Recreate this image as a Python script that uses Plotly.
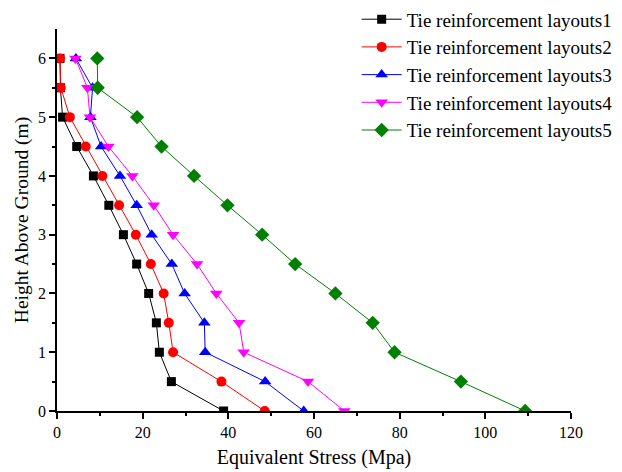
import plotly.graph_objects as go

heights = [0, 0.5, 1, 1.5, 2, 2.5, 3, 3.5, 4, 4.5, 5, 5.5, 6]
layout1 = [38.9, 26.7, 23.9, 23.2, 21.4, 18.6, 15.5, 12.1, 8.5, 4.6, 1.3, 0.8, 0.7]
layout2 = [48.5, 38.4, 27.1, 26.1, 24.9, 21.9, 18.4, 14.5, 10.6, 6.7, 3.0, 0.9, 0.7]
layout3 = [57.6, 48.6, 34.6, 34.4, 29.8, 26.8, 22.1, 18.6, 14.7, 10.3, 7.8, 8.3, 4.4]
layout4 = [67.1, 58.6, 43.6, 42.5, 37.2, 32.7, 27.1, 22.6, 17.6, 12.0, 7.7, 7.1, 4.3]
layout5 = [109.3, 94.3, 78.8, 73.7, 65.0, 55.6, 47.9, 39.8, 32.0, 24.4, 18.7, 9.5, 9.4]

names = ["Tie reinforcement layouts1", "Tie reinforcement layouts2", "Tie reinforcement layouts3",
         "Tie reinforcement layouts4", "Tie reinforcement layouts5"]
series = [layout1, layout2, layout3, layout4, layout5]
colors = ["#000000", "#FF0000", "#0000FF", "#FF00FF", "#008000"]
symbols = ["square", "circle", "triangle-up", "triangle-down", "diamond"]
sizes = [9, 10, 11, 11, 11]

fig = go.Figure()
for n, s, c, sym, sz in zip(names, series, colors, symbols, sizes):
    fig.add_trace(go.Scatter(
        x=s, y=heights, name=n, mode="lines+markers",
        line=dict(color=c, width=1),
        marker=dict(symbol=sym, size=sz, color=c, line=dict(width=0)),
        cliponaxis=True,
    ))

font = "Liberation Serif, Times New Roman, serif"
fig.update_layout(
    width=622, height=472,
    margin=dict(l=57, r=51, t=29, b=61, autoexpand=False),
    paper_bgcolor="white", plot_bgcolor="white",
    font=dict(family=font, size=16, color="black"),
    legend=dict(x=0.583, y=1.075, xanchor="left", yanchor="top",
                bgcolor="rgba(0,0,0,0)", font=dict(size=19, family=font),
                tracegroupgap=0, itemwidth=40),
    xaxis=dict(range=[0, 120], tickvals=[0, 20, 40, 60, 80, 100, 120], automargin=False,
               showgrid=False, zeroline=False, showline=True, linecolor="black", linewidth=1.5,
               ticks="outside", ticklen=6, tickcolor="black", tickwidth=1.5,
               minor=dict(tickvals=[10, 30, 50, 70, 90, 110], ticks="outside", ticklen=3,
                          tickcolor="black", tickwidth=1.5),
               title=dict(text="Equivalent Stress (Mpa)", font=dict(size=20), standoff=10),
               tickfont=dict(size=16)),
    yaxis=dict(range=[0, 6.5], tickvals=[0, 1, 2, 3, 4, 5, 6], automargin=False,
               showgrid=False, zeroline=False, showline=True, linecolor="black", linewidth=1.5,
               ticks="outside", ticklen=6, tickcolor="black", tickwidth=1.5,
               minor=dict(tickvals=[0.5, 1.5, 2.5, 3.5, 4.5, 5.5], ticks="outside", ticklen=3,
                          tickcolor="black", tickwidth=1.5),
               title=dict(text="Height Above Ground (m)", font=dict(size=19.5), standoff=4),
               tickfont=dict(size=16)),
)
fig.write_html("out.html", post_script="document.body.style.margin='0';",
               config={"displayModeBar": False})
